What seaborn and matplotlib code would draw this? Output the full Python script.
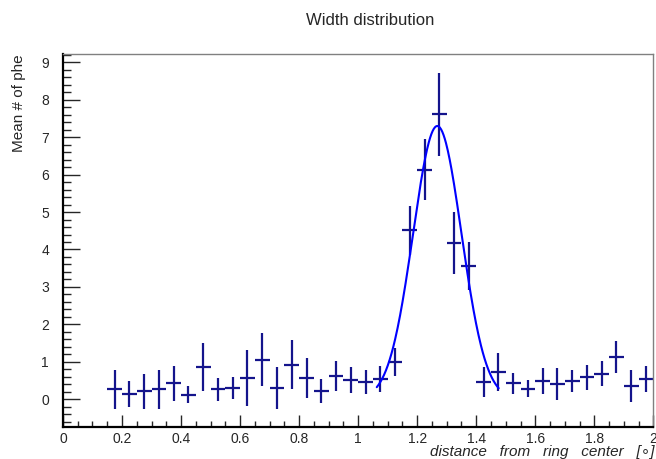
import numpy as np
import matplotlib
matplotlib.use("Agg")
import matplotlib.pyplot as plt
from matplotlib.ticker import MultipleLocator
import seaborn as sns

# bin centers (width 0.05) and mean number of photoelectrons
bin_centers = [0.175, 0.225, 0.275, 0.325, 0.375, 0.425, 0.475, 0.525, 0.575, 0.625,
               0.675, 0.725, 0.775, 0.825, 0.875, 0.925, 0.975, 1.025, 1.075, 1.125,
               1.175, 1.225, 1.275, 1.325, 1.375, 1.425, 1.475, 1.525, 1.575, 1.625,
               1.675, 1.725, 1.775, 1.825, 1.875, 1.925, 1.975]
mean_phe = [0.26, 0.13, 0.21, 0.26, 0.43, 0.12, 0.86, 0.26, 0.30, 0.57,
            1.06, 0.30, 0.92, 0.57, 0.21, 0.62, 0.51, 0.46, 0.55, 0.99,
            4.51, 6.13, 7.61, 4.17, 3.55, 0.46, 0.73, 0.42, 0.28, 0.49,
            0.40, 0.48, 0.58, 0.68, 1.13, 0.35, 0.55]
errors = [0.53, 0.35, 0.47, 0.51, 0.47, 0.23, 0.65, 0.30, 0.30, 0.74,
          0.72, 0.55, 0.66, 0.53, 0.32, 0.39, 0.35, 0.31, 0.35, 0.38,
          0.66, 0.81, 1.10, 0.82, 0.64, 0.40, 0.51, 0.29, 0.22, 0.35,
          0.42, 0.29, 0.33, 0.33, 0.42, 0.42, 0.35]
bin_half_width = 0.025

# gaussian fit parameters
fit_amp = 7.3
fit_mean = 1.268
fit_sigma = 0.082
fit_range = (1.063, 1.476)

sns.set_style("ticks")
plt.rcParams['font.family'] = ['Liberation Sans', 'DejaVu Sans']

fig = plt.figure(figsize=(6.56, 4.59), dpi=100)
ax = fig.add_axes([0.096, 0.07, 0.9, 0.812])

ax.errorbar(bin_centers, mean_phe, yerr=errors, xerr=bin_half_width, fmt='none',
            ecolor='#14148c', elinewidth=1.6, capsize=0)

fx = np.linspace(fit_range[0], fit_range[1], 200)
fy = fit_amp * np.exp(-0.5 * ((fx - fit_mean) / fit_sigma) ** 2)
sns.lineplot(x=fx, y=fy, ax=ax, color='#0000ff', linewidth=1.5)

ax.set_xlim(0, 2)
ax.set_ylim(-0.74, 9.22)
ax.xaxis.set_major_locator(MultipleLocator(0.2))
ax.xaxis.set_minor_locator(MultipleLocator(0.05))
ax.yaxis.set_major_locator(MultipleLocator(1))
ax.yaxis.set_minor_locator(MultipleLocator(0.2))
ax.set_xticks([0, 0.2, 0.4, 0.6, 0.8, 1, 1.2, 1.4, 1.6, 1.8, 2])
ax.set_xticklabels(['0', '0.2', '0.4', '0.6', '0.8', '1', '1.2', '1.4', '1.6', '1.8', '2'])

ax.tick_params(axis='x', which='major', direction='in', length=8.5, width=1, labelsize=10, pad=4)
ax.tick_params(axis='x', which='minor', direction='in', length=4, width=1)
ax.tick_params(axis='y', which='major', direction='in', length=12, width=1, labelsize=10, pad=10)
ax.tick_params(axis='y', which='minor', direction='in', length=6, width=1)

for s in ['left', 'bottom']:
    ax.spines[s].set_linewidth(1.6)
    ax.spines[s].set_color('black')
for s in ['top', 'right']:
    ax.spines[s].set_linewidth(1)
    ax.spines[s].set_color('#808080')
    ax.spines[s].set_visible(True)

ax.set_ylabel("Mean # of phe", fontsize=11, loc='top', labelpad=11)
fig.text(654 / 656, 1 - 452 / 459, "distance   from   ring   center   [\u2218]",
         ha='right', va='center', fontsize=11, style='italic')
fig.text(0.565, 0.955, "Width distribution", ha='center', va='center', fontsize=12)

fig.savefig("out.png", dpi=100)
